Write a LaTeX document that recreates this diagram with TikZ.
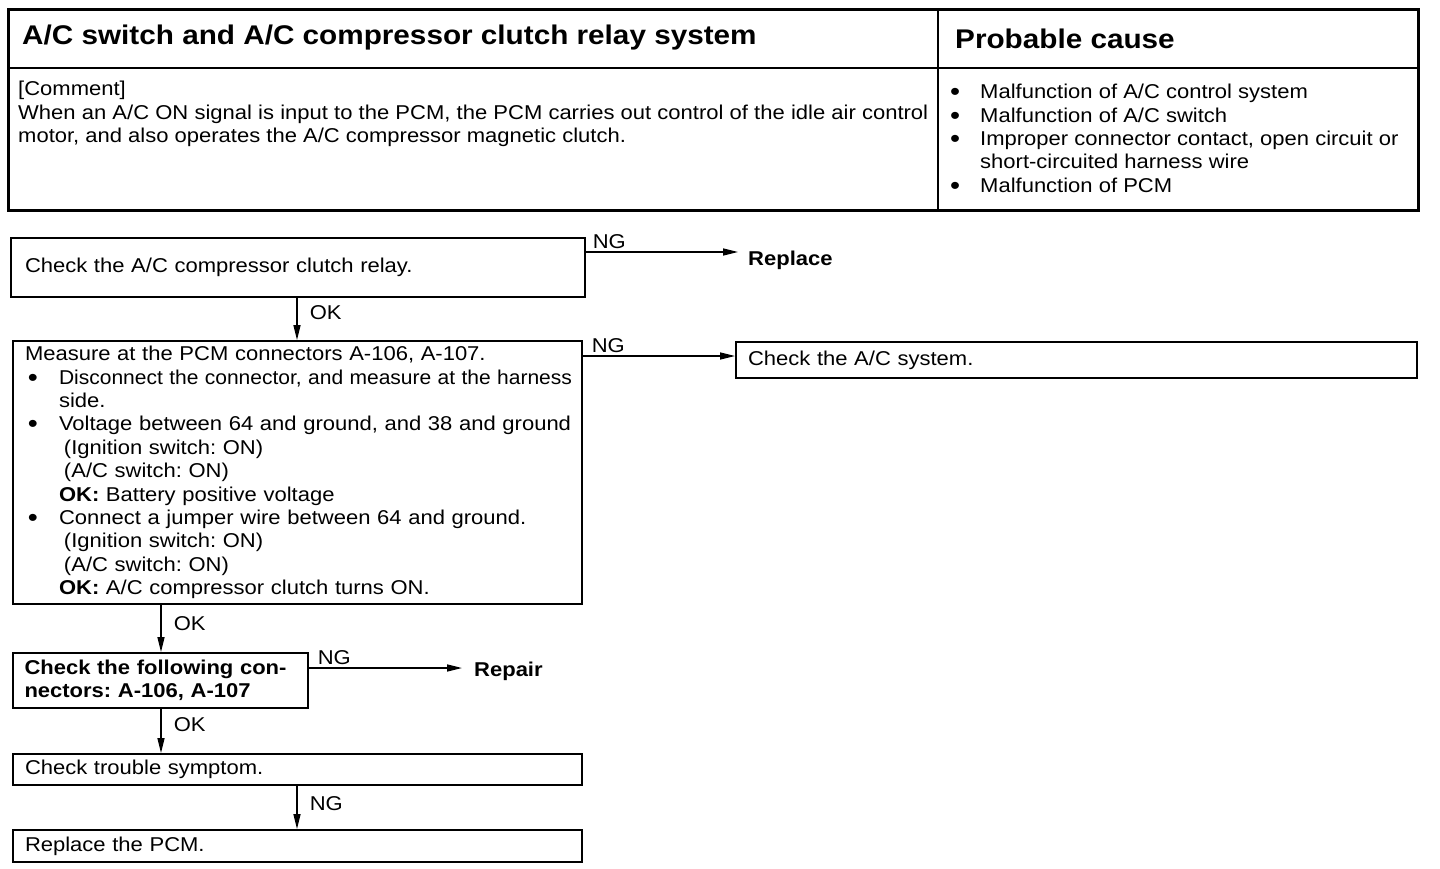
\documentclass[tikz,border=0pt]{standalone}
\usepackage{fontspec}
\usepackage{graphicx}
\setmainfont{Liberation Sans}[FakeStretch=1.1]
\usetikzlibrary{arrows.meta}
\frenchspacing
\newcommand{\bodyfs}{\fontsize{20}{23.4}\selectfont}
\newcommand{\titlefs}{\fontsize{27}{30}\selectfont\bfseries}
\newcommand{\bull}{\smash{\raisebox{-2pt}{\scalebox{1.3}{\textbullet}}}}
\newcommand{\bl}{\makebox[34pt][l]{\hspace*{3pt}\bull}}
\newcommand{\ind}{\hspace*{34pt}}
\newcommand{\indp}{\hspace*{39pt}}
\begin{document}
\begin{tikzpicture}[x=1pt,y=-1pt,
  box/.style={draw, line width=2pt, inner ysep=0pt, anchor=north west, align=left, font=\bodyfs},
  arr/.style={line width=1.5pt, -{Triangle[length=15pt,width=7pt]}},
  lbl/.style={font=\bodyfs, inner sep=0pt},
  tbl/.style={line width=3pt}]
\useasboundingbox (0,0) rectangle (1440,868);
% ---------- table ----------
\draw[tbl] (8,9) rectangle (1418,210);
\draw[line width=2.5pt] (8,68) -- (1418,68);
\draw[line width=2.5pt] (938,9) -- (938,210);
\node[anchor=west, inner sep=0pt, font=\titlefs] (title) at (22,38) {A/C switch and A/C compressor clutch relay system};
\node[anchor=west, inner sep=0pt, font=\titlefs] (pc) at (955,39) {Probable cause};
\node[anchor=north west, inner sep=0pt, align=left, font=\bodyfs] (comment) at (18,81)
  {[Comment]\\
   \makebox[910pt][s]{When an A/C ON signal is input to the PCM, the PCM carries out control of the idle air control}\\
   motor, and also operates the A/C compressor magnetic clutch.};
\node[anchor=north west, inner sep=0pt, align=left, font=\bodyfs] (causes) at (950,84)
  {\makebox[30pt][l]{\bull}Malfunction of A/C control system\\
   \makebox[30pt][l]{\bull}Malfunction of A/C switch\\
   \makebox[30pt][l]{\bull}Improper connector contact, open circuit or\\
   \hspace*{30pt}short-circuited harness wire\\
   \makebox[30pt][l]{\bull}Malfunction of PCM};
% ---------- flow ----------
\node[box, minimum width=574pt, minimum height=59pt, text width=546pt, inner xsep=14pt] (b1) at (10,237)
  {Check the A/C compressor clutch relay.};
\node[box, minimum width=569pt, minimum height=263pt, text width=545pt, inner xsep=12pt] (b2) at (12,340)
  {Measure at the PCM connectors A-106, A-107.\\
   \bl\resizebox{513pt}{\height}{Disconnect the connector, and measure at the harness}\\
   \ind side.\\
   \bl\makebox[513pt][s]{Voltage between 64 and ground, and 38 and ground}\\
   \indp(Ignition switch: ON)\\
   \indp(A/C switch: ON)\\
   \ind\textbf{OK:} Battery positive voltage\\
   \bl Connect a jumper wire between 64 and ground.\\
   \indp(Ignition switch: ON)\\
   \indp(A/C switch: ON)\\
   \ind\textbf{OK:} A/C compressor clutch turns ON.};
\node[box, minimum width=681pt, minimum height=36pt, text width=657pt, inner xsep=12pt] (b3) at (735,341)
  {Check the A/C system.};
\node[box, minimum width=295pt, minimum height=55pt, text width=272pt, inner xsep=11.5pt, font=\bodyfs\bfseries] (b4) at (12,652)
  {\makebox[272pt][s]{Check the following con-}\\nectors: A-106, A-107};
\node[box, minimum width=569pt, minimum height=31pt, text width=545pt, inner xsep=12pt] (b5) at (12,753)
  {Check trouble symptom.};
\node[box, minimum width=569pt, minimum height=32pt, text width=545pt, inner xsep=12pt] (b6) at (12,829)
  {Replace the PCM.};
\node[anchor=west, inner sep=0pt, font=\bodyfs\bfseries] (rep) at (748,260) {Replace};
\node[anchor=west, inner sep=0pt, font=\bodyfs\bfseries] (rpr) at (474,671) {Repair};
\coordinate (repin) at (738,252);
\coordinate (rprin) at (462,668);
% arrows
\draw[arr] ([yshift=-15pt]b1.north east) -- node[lbl, at start, anchor=south west, xshift=6pt, yshift=3pt]{NG} (repin);
\draw[arr] (b1.south -| 297,0) -- node[lbl, pos=0.35, anchor=west, xshift=12pt]{OK} (b2.north -| 297,0);
\draw[arr] ([yshift=-16pt]b2.north east) -- node[lbl, at start, anchor=south west, xshift=8pt, yshift=3pt]{NG} ([yshift=-15pt]b3.north west);
\draw[arr] (b2.south -| 161,0) -- node[lbl, pos=0.4, anchor=west, xshift=12pt]{OK} (b4.north -| 161,0);
\draw[arr] ([yshift=-16pt]b4.north east) -- node[lbl, at start, anchor=south west, xshift=8pt, yshift=3pt]{NG} (rprin);
\draw[arr] (b4.south -| 161,0) -- node[lbl, pos=0.35, anchor=west, xshift=12pt]{OK} (b5.north -| 161,0);
\draw[arr] (b5.south -| 297,0) -- node[lbl, pos=0.4, anchor=west, xshift=12pt]{NG} (b6.north -| 297,0);
\end{tikzpicture}
\end{document}
